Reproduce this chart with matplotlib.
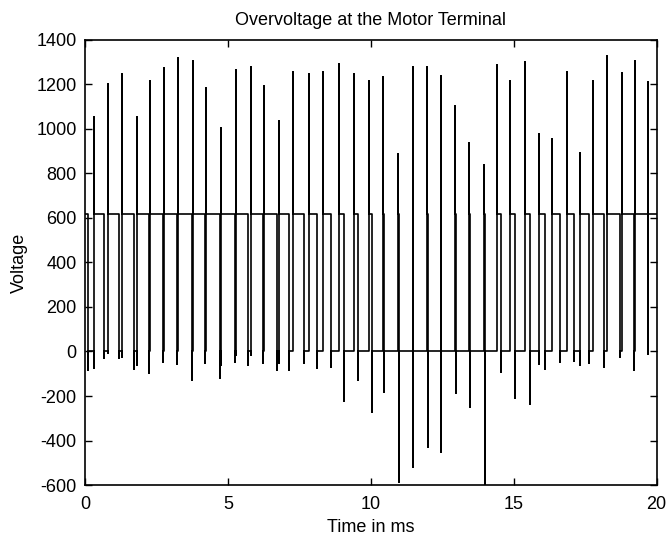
import numpy as np
import matplotlib
matplotlib.use("Agg")
import matplotlib.pyplot as plt

plt.rcParams['font.family'] = ['Liberation Sans', 'DejaVu Sans']
plt.rcParams['axes.unicode_minus'] = False

# PWM pulses (time in ms, voltage in V)
dc_level = 620
rise_t = [0.325, 0.815, 1.284, 1.809, 2.274, 2.774, 3.243, 3.768, 4.233, 4.758,
          5.272, 5.797, 6.262, 6.787, 7.294, 7.847, 8.344, 8.903, 9.411, 9.935,
          10.443, 10.967, 11.464, 11.964, 12.447, 12.961, 13.451, 13.958, 14.403, 14.885,
          15.410, 15.883, 16.348, 16.862, 17.317, 17.789, 18.254, 18.775, 19.248, 19.713]
rise_peak = [1055, 1200, 1247, 1055, 1216, 1273, 1320, 1307, 1183, 1003,
             1265, 1279, 1193, 1037, 1258, 1246, 1255, 1292, 1246, 1214,
             1235, 886, 1280, 1280, 1240, 1103, 938, 838, 1288, 1216,
             1301, 978, 954, 1255, 894, 1217, 1330, 1250, 1307, 1210]
rise_under = [-76, -8, -23, -61, 0, 0, 0, 0, 0, -61,
              -16, -16, 0, -53, 0, 0, 0, 0, 0, 0,
              0, 0, 0, 0, 0, 0, 0, 0, 0, 0,
              0, -55, 0, 0, -61, 0, 0, 0, 0, 0]
fall_t = [0.105, 0.665, 1.200, 1.714, 2.239, 2.746, 3.218, 3.743, 4.216, 4.723,
          5.247, 5.713, 6.238, 6.706, 7.147, 7.661, 8.127, 8.595, 9.061, 9.561,
          10.040, 10.471, 10.995, 11.471, 11.989, 12.461, 12.979, 13.469, 13.993, 14.543,
          15.043, 15.568, 16.092, 16.617, 17.117, 17.632, 18.167, 18.716, 19.217, 19.695]
fall_dip = [-83, -31, -31, -79, -98, -46, -57, -128, -50, -120,
            -46, -61, -50, -83, -83, -50, -76, -68, -221, -128,
            -273, -180, -585, -518, -428, -453, -185, -248, -600, -91,
            -207, -237, -79, -46, -43, -53, -68, -23, -83, -10]

# build the stepped trace
events = []
for t, d in zip(fall_t, fall_dip):
    events.append((t, [dc_level, d, 0]))
for t, u, p in zip(rise_t, rise_under, rise_peak):
    events.append((t, [0, u, p, dc_level]))
events.sort(key=lambda e: e[0])

tt = [0.0]
vv = [dc_level]
for t, levels in events:
    for v in levels:
        tt.append(t)
        vv.append(v)
tt.append(20.0)
vv.append(dc_level)

fig = plt.figure(figsize=(6.66, 5.38), dpi=100)
ax = fig.add_axes([0.1276, 0.0985, 0.986 - 0.1276, 0.9257 - 0.0985])
ax.plot(tt, vv, color='black', lw=1.2)

ax.set_xlim(0, 20)
ax.set_ylim(-600, 1400)
ax.set_xticks([0, 5, 10, 15, 20])
ax.set_yticks(np.arange(-600, 1401, 200))
ax.tick_params(direction='in', length=5, width=1, top=True, right=True,
               labelsize=13)
ax.tick_params(axis='x', pad=8)
ax.tick_params(axis='y', pad=6)
for s in ax.spines.values():
    s.set_linewidth(1.2)

ax.set_title('Overvoltage at the Motor Terminal', fontsize=13, pad=11)
ax.set_xlabel('Time in ms', fontsize=13, labelpad=4)
ax.set_ylabel('Voltage', fontsize=13, labelpad=6)

fig.savefig('out.png', dpi=100)
